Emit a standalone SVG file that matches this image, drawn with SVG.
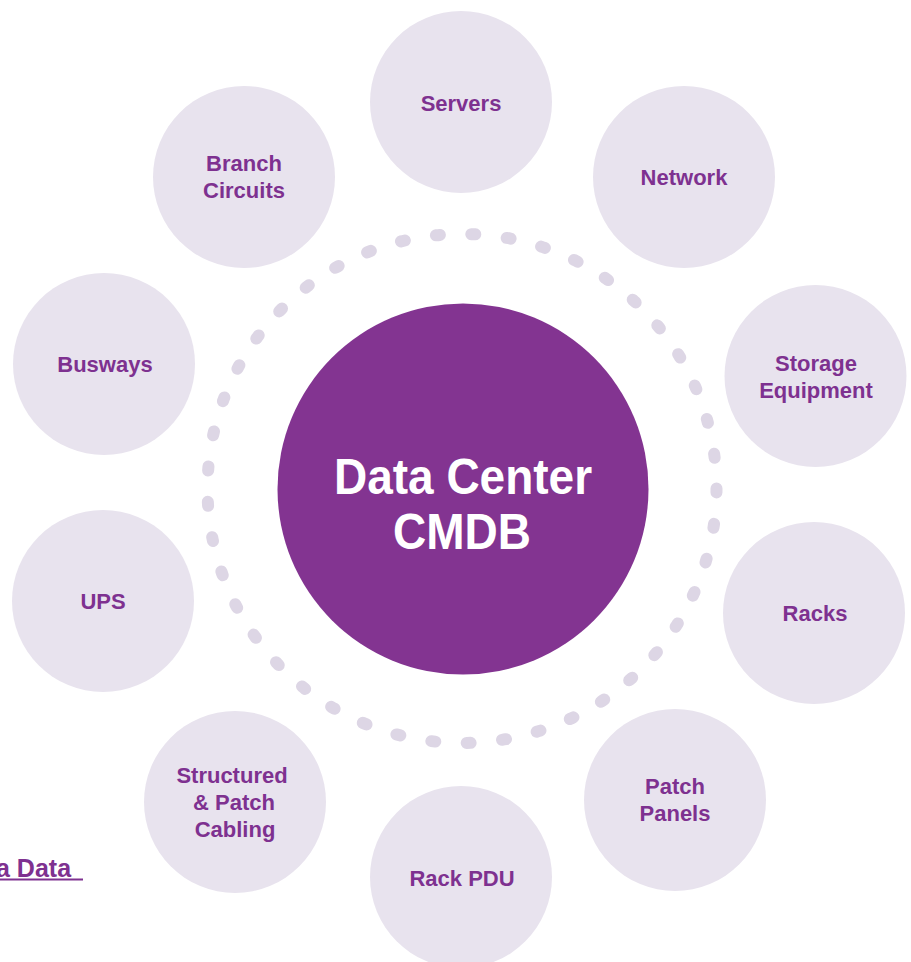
<svg xmlns="http://www.w3.org/2000/svg" width="911" height="962" viewBox="0 0 911 962">
  <style>
    .node { fill: #e8e3ee; }
    .label { font-family: "Liberation Sans", Arial, sans-serif; font-weight: bold; font-size: 22px; fill: #7e3190; text-anchor: middle; }
    .hub { fill: #833491; }
    .hub-label { font-family: "Liberation Sans", Arial, sans-serif; font-weight: bold; font-size: 46px; fill: #ffffff; text-anchor: middle; }
    .ring { fill: none; stroke: #ddd6e5; stroke-width: 12; stroke-linecap: round; stroke-dasharray: 4 31.535; }
    .link { font-family: "Liberation Sans", Arial, sans-serif; font-weight: bold; font-size: 25px; fill: #7e3190; }
  </style>
  <rect width="911" height="962" fill="#ffffff"/>

  <!-- dotted orbit around the hub -->
  <g id="connectors">
    <circle class="ring" cx="462" cy="488.5" r="254.5"/>
  </g>

  <!-- central hub -->
  <g id="hub">
    <circle class="hub" cx="463" cy="489" r="185.5"/>
    <text class="hub-label" transform="translate(463,494) scale(1,1.08)">Data Center</text>
    <text class="hub-label" transform="translate(462,549) scale(1,1.08)">CMDB</text>
  </g>

  <!-- satellite nodes -->
  <g id="servers">
    <circle class="node" cx="461" cy="102" r="91"/>
    <text class="label" x="461" y="111">Servers</text>
  </g>
  <g id="network">
    <circle class="node" cx="684" cy="177" r="91"/>
    <text class="label" x="684" y="185">Network</text>
  </g>
  <g id="storage-equipment">
    <circle class="node" cx="815.5" cy="376" r="91"/>
    <text class="label" x="816" y="371">Storage</text>
    <text class="label" x="816" y="398">Equipment</text>
  </g>
  <g id="racks">
    <circle class="node" cx="814" cy="613" r="91"/>
    <text class="label" x="815" y="621">Racks</text>
  </g>
  <g id="patch-panels">
    <circle class="node" cx="675" cy="800" r="91"/>
    <text class="label" x="675" y="794">Patch</text>
    <text class="label" x="675" y="821">Panels</text>
  </g>
  <g id="rack-pdu">
    <circle class="node" cx="461" cy="877" r="91"/>
    <text class="label" x="462" y="886">Rack PDU</text>
  </g>
  <g id="structured-cabling">
    <circle class="node" cx="235" cy="802" r="91"/>
    <text class="label" x="232" y="783">Structured</text>
    <text class="label" x="234" y="810">&amp; Patch</text>
    <text class="label" x="235" y="837">Cabling</text>
  </g>
  <g id="ups">
    <circle class="node" cx="103" cy="601" r="91"/>
    <text class="label" x="103" y="609">UPS</text>
  </g>
  <g id="busways">
    <circle class="node" cx="104" cy="364" r="91"/>
    <text class="label" x="105" y="372">Busways</text>
  </g>
  <g id="branch-circuits">
    <circle class="node" cx="244" cy="177" r="91"/>
    <text class="label" x="244" y="171">Branch</text>
    <text class="label" x="244" y="198">Circuits</text>
  </g>

  <!-- hyperlink fragment at the left edge -->
  <g id="link">
    <text class="link" x="-4" y="877">a Data</text>
    <line x1="0" y1="879.5" x2="83" y2="879.5" stroke="#7e3190" stroke-width="2"/>
  </g>
</svg>
